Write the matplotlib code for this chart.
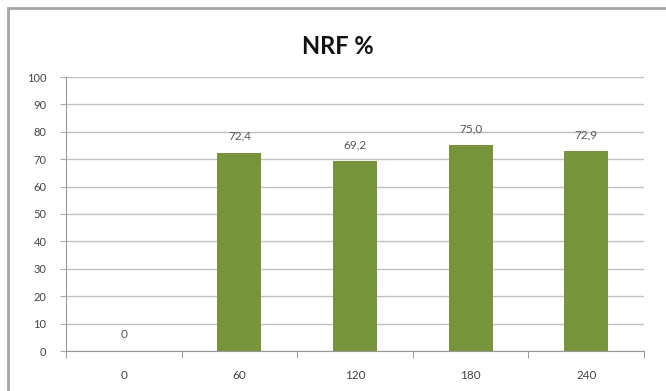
import numpy as np
import matplotlib.pyplot as plt
from matplotlib.patches import Rectangle

# NRF values per time point
categories = ['0', '60', '120', '180', '240']
nrf_values = [0, 72.4, 69.2, 75.0, 72.9]
value_labels = ['0', '72,4', '69,2', '75,0', '72,9']
y_ticks = list(range(0, 101, 10))

plt.rcParams['font.family'] = ['Lato', 'DejaVu Sans']

fig = plt.figure(figsize=(6.66, 3.91), dpi=100)
fig.patch.set_facecolor('white')

# chart frame
frame = Rectangle((8 / 666, -0.2), 1.2, 1 - 8 / 391 + 0.2, transform=fig.transFigure,
                  facecolor='none', edgecolor='#a6a6a6', lw=2.0, zorder=-1)
fig.patches.append(frame)

ax = fig.add_axes([66 / 666, 1 - 351 / 391, (644 - 66) / 666, (351 - 77) / 391])
ax.set_facecolor('none')

x = np.arange(len(categories))
bars = ax.bar(x, nrf_values, width=0.38, color='#77933C', zorder=3)

for xi, v, lab in zip(x, nrf_values, value_labels):
    ax.text(xi, v + 4, lab, ha='center', va='bottom', fontsize=8.5, color='#555555')

ax.set_xlim(-0.5, len(categories) - 0.5)
ax.set_ylim(0, 100)
ax.set_yticks(y_ticks)
ax.set_yticklabels([str(t) for t in y_ticks], fontsize=8, color='#444444')
ax.set_xticks(x)
ax.set_xticklabels(categories, fontsize=8.5, color='#444444')

# category boundary tick marks on the x axis
ax.set_xticks(np.arange(-0.5, len(categories), 1.0), minor=True)
ax.tick_params(axis='x', which='major', length=0, pad=14)
ax.tick_params(axis='x', which='minor', length=5, color='#888888', direction='out')
ax.tick_params(axis='y', length=4, color='#aaaaaa', pad=10)

ax.grid(axis='y', color='#c0c0c0', lw=1.0, zorder=0)
for s in ['top', 'right']:
    ax.spines[s].set_visible(False)
ax.spines['left'].set_color('#999999')
ax.spines['bottom'].set_color('#999999')

fig.text(338 / 666, 1 - 47 / 391, 'NRF %', ha='center', va='center',
         fontsize=17, fontweight='bold', color='#111111')

fig.savefig('out.png', dpi=100)
